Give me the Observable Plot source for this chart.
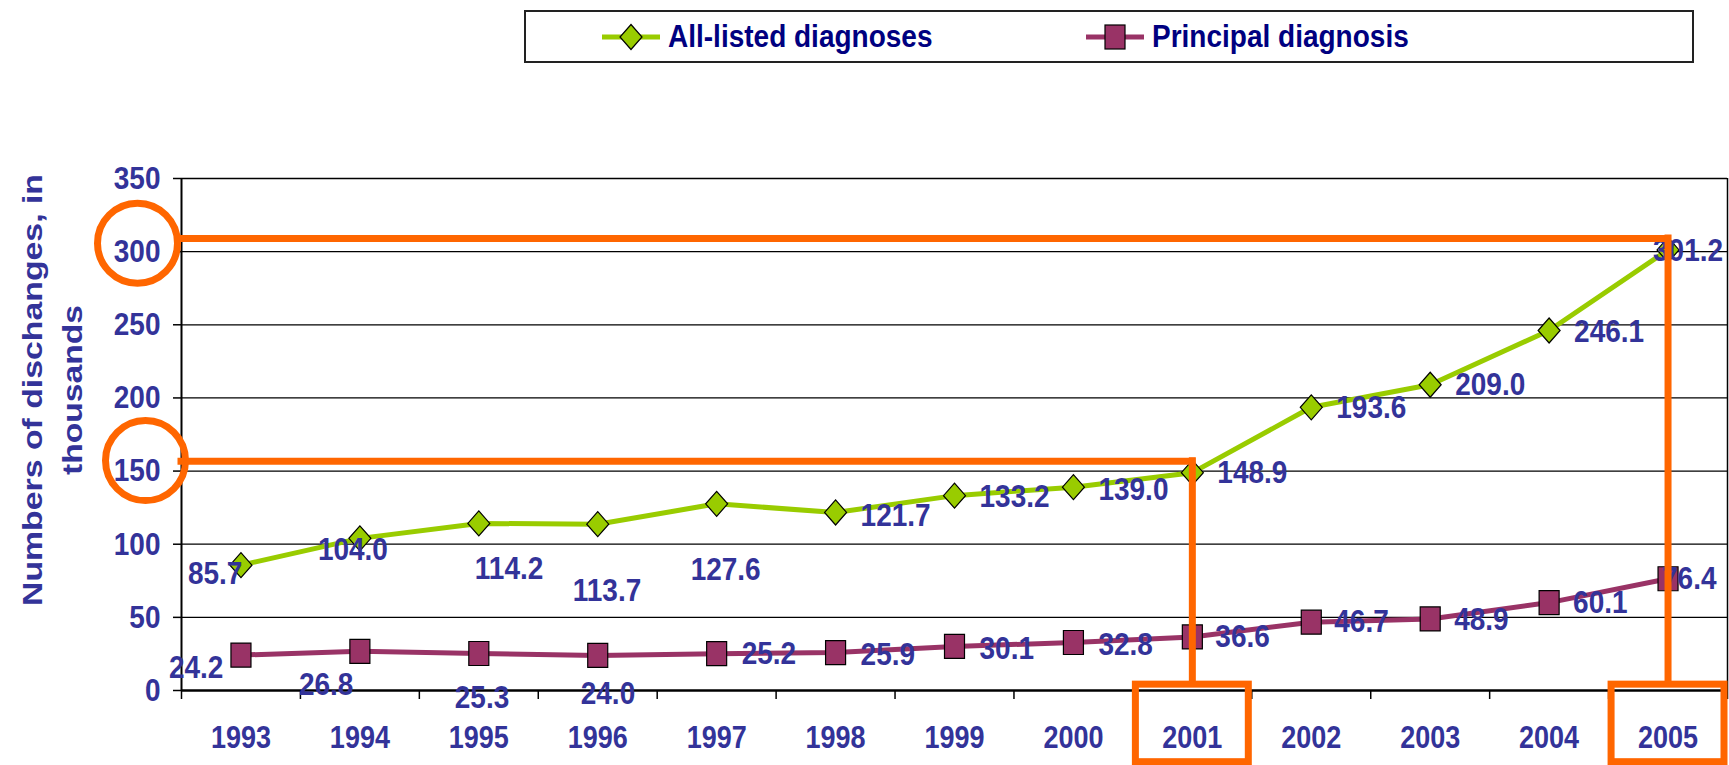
<!DOCTYPE html>
<html>
<head>
<meta charset="utf-8">
<script src="https://cdn.jsdelivr.net/npm/d3@7"></script>
<script src="https://cdn.jsdelivr.net/npm/@observablehq/plot@0.6"></script>
<style>
  body { margin: 0; background: #fff; font-family: "Liberation Sans", Arial, sans-serif; }
  #wrap { position: relative; width: 1729px; height: 765px; overflow: hidden; }
  #legend { position: absolute; left: 524px; top: 10px; width: 1166px; height: 49px; border: 2px solid #222; background: #fff; }
  .item { position: absolute; top: 0; height: 49px; display: flex; align-items: center; }
  .item span { font-size: 28px; font-weight: bold; color: #000080; margin-left: 8px; white-space: nowrap; display: inline-block; transform: scaleY(1.12); }
</style>
</head>
<body>
<div id="wrap">
  <div id="chart"></div>
  <div id="legend"></div>
</div>
<script>
// ---- data ----
const years = [1993, 1994, 1995, 1996, 1997, 1998, 1999, 2000, 2001, 2002, 2003, 2004, 2005];
const allListed = [85.7, 104.0, 114.2, 113.7, 127.6, 121.7, 133.2, 139.0, 148.9, 193.6, 209.0, 246.1, 301.2];
const principal = [24.2, 26.8, 25.3, 24.0, 25.2, 25.9, 30.1, 32.8, 36.6, 46.7, 48.9, 60.1, 76.4];
const seriesNames = ["All-listed diagnoses", "Principal diagnosis"];
const yTicks = [0, 50, 100, 150, 200, 250, 300, 350];
const yTitleLines = ["Numbers of dischanges, in", "thousands"];
const highlightYears = [2001, 2005];
const highlightTicks = [300, 150];

// ---- layout (label nudges in pixels: [dx of text start, dy]) ----
const allNudge = [[-53, 9], [-42, 11], [-4, 45], [-25, 67], [-26, 66], [25, 3], [25, 1], [25, 3], [25, 0], [25, 0], [25, 0], [25, 1], [-15, 1]];
const priNudge = [[-72, 13], [-61, 33], [-24, 44], [-17, 38], [25, 0], [25, 2], [25, 2], [25, 2], [23, 0], [23, 0], [24, 1], [24, 0], [-6, 0]];
const ringNudge = [[-44, -8.5], [-36, -10.5]];

const GREEN = "#99CC00", PURPLE = "#993366", ORANGE = "#FF6600", TEXT = "#333399";
const STRETCH = 1.15; // glyphs in the reference are drawn slightly taller than wide

const diamond = { draw(ctx) { ctx.moveTo(0, -12.5); ctx.lineTo(11, 0); ctx.lineTo(0, 12.5); ctx.lineTo(-11, 0); ctx.closePath(); } };
const square = { draw(ctx) { ctx.rect(-10, -12, 20, 24); } };

const data = years.map((year, i) => ({ year, all: allListed[i], pri: principal[i] }));
const x0 = years[0] - 0.5, x1 = years[years.length - 1] + 0.5;
const boundaries = d3.range(years.length + 1).map(i => x0 + i);
const highlights = highlightYears.map(yr => ({ year: yr, value: allListed[years.indexOf(yr)] }));

const labelStyle = { fontSize: 28, fontWeight: "bold", fill: TEXT, textAnchor: "start" };

const chart = Plot.plot({
  width: 1729,
  height: 765,
  marginLeft: 181,
  marginRight: 2,
  marginTop: 178,
  marginBottom: 75,
  x: { domain: [x0, x1] },
  y: { domain: [0, 350] },
  style: { fontFamily: "'Liberation Sans', Arial, sans-serif", background: "#fff", overflow: "visible" },
  marks: [
    Plot.gridY(yTicks.slice(1), { stroke: "#000", strokeOpacity: 1, strokeWidth: 1.3 }),
    Plot.ruleX([x1], { stroke: "#000", strokeWidth: 1.5 }),
    Plot.axisY(yTicks, { tickSize: 8, tickFormat: () => "", stroke: "#000", strokeWidth: 1.5, label: null }),
    Plot.axisY(yTicks, { tickSize: 0, tickPadding: 21, color: TEXT, fontSize: 28, fontWeight: "bold", label: null }),
    Plot.axisX(boundaries, { tickSize: 9, tickFormat: () => "", stroke: "#000", strokeWidth: 1.5, label: null }),
    Plot.axisX(years, { tickSize: 0, tickPadding: 35, tickFormat: d => String(d), color: TEXT, fontSize: 27, fontWeight: "bold", label: null }),
    Plot.ruleY([0], { stroke: "#000", strokeWidth: 2.5 }),
    Plot.ruleX([x0], { stroke: "#000", strokeWidth: 2 }),
    Plot.line(data, { x: "year", y: "all", stroke: GREEN, strokeWidth: 5 }),
    Plot.line(data, { x: "year", y: "pri", stroke: PURPLE, strokeWidth: 5 }),
    Plot.dot(data, { x: "year", y: "all", symbol: diamond, fill: GREEN, stroke: "#000", strokeWidth: 1.2 }),
    Plot.dot(data, { x: "year", y: "pri", symbol: square, fill: PURPLE, stroke: "#000", strokeWidth: 1.2 }),
    ...data.map((d, i) => Plot.text([d], { x: "year", y: "all", text: r => r.all.toFixed(1), dx: allNudge[i][0], dy: allNudge[i][1], ...labelStyle })),
    ...data.map((d, i) => Plot.text([d], { x: "year", y: "pri", text: r => r.pri.toFixed(1), dx: priNudge[i][0], dy: priNudge[i][1], ...labelStyle })),
    // orange highlight annotations
    Plot.ruleY(highlights, { y: "value", x1: () => x0, x2: "year", dy: -11.5, stroke: ORANGE, strokeWidth: 7, strokeLinecap: "square" }),
    Plot.ruleX(highlights, { x: "year", y1: "value", y2: () => 0, dy: -11.5, stroke: ORANGE, strokeWidth: 7, strokeLinecap: "square" }),
    Plot.rect(highlights, { x1: d => d.year - 0.5, x2: d => d.year + 0.5, y1: () => -49, y2: () => 4, insetLeft: 3, insetRight: 3, fill: "none", stroke: ORANGE, strokeWidth: 7 }),
    ...highlightTicks.map((t, i) => Plot.dot([t], { y: d => d, frameAnchor: "left", dx: ringNudge[i][0], dy: ringNudge[i][1], r: 40, fill: "#fff", fillOpacity: 0, stroke: ORANGE, strokeWidth: 7 }))
  ]
});
document.getElementById("chart").appendChild(chart);

// stretch glyphs vertically to match the reference's tall lettering
d3.select(chart).selectAll("text").each(function () {
  const t = d3.select(this);
  const tr = t.attr("transform");
  if (tr) {
    t.attr("transform", tr + ` scale(1,${STRETCH})`);
  } else {
    const x = +t.attr("x") || 0, y = +t.attr("y") || 0;
    t.attr("x", null).attr("y", null).attr("transform", `translate(${x},${y}) scale(1,${STRETCH})`);
  }
});

// ---- rotated y-axis title (two lines) ----
const yScale = chart.scale("y");
const titleCenter = (yScale.apply(0) + yScale.apply(350)) / 2 - 44;
const title = d3.select(chart).append("text")
  .attr("transform", `translate(0,${titleCenter}) rotate(-90)`)
  .attr("text-anchor", "middle")
  .attr("fill", TEXT)
  .attr("font-weight", "bold")
  .attr("font-size", 28)
  .attr("font-family", "'Liberation Sans', Arial, sans-serif");
const titleLengths = [432, 170];
const titleBaselines = [42, 82];
yTitleLines.forEach((line, i) => {
  title.append("tspan").attr("x", 0).attr("y", titleBaselines[i])
    .attr("textLength", titleLengths[i]).attr("lengthAdjust", "spacingAndGlyphs").text(line);
});

// ---- legend ----
const legend = d3.select("#legend");
const items = [
  { name: seriesNames[0], color: GREEN, sym: "diamond", left: 76 },
  { name: seriesNames[1], color: PURPLE, sym: "square", left: 560 }
];
items.forEach(it => {
  const div = legend.append("div").attr("class", "item").style("left", it.left + "px");
  const svg = div.append("svg").attr("width", 58).attr("height", 30);
  svg.append("line").attr("x1", 0).attr("x2", 58).attr("y1", 15).attr("y2", 15).attr("stroke", it.color).attr("stroke-width", 5);
  if (it.sym === "diamond") {
    svg.append("path").attr("d", "M29,2.5L40,15L29,27.5L18,15Z").attr("fill", it.color).attr("stroke", "#000").attr("stroke-width", 1.2);
  } else {
    svg.append("rect").attr("x", 19).attr("y", 3).attr("width", 20).attr("height", 24).attr("fill", it.color).attr("stroke", "#000").attr("stroke-width", 1.2);
  }
  div.append("span").text(it.name);
});
</script>
</body>
</html>
